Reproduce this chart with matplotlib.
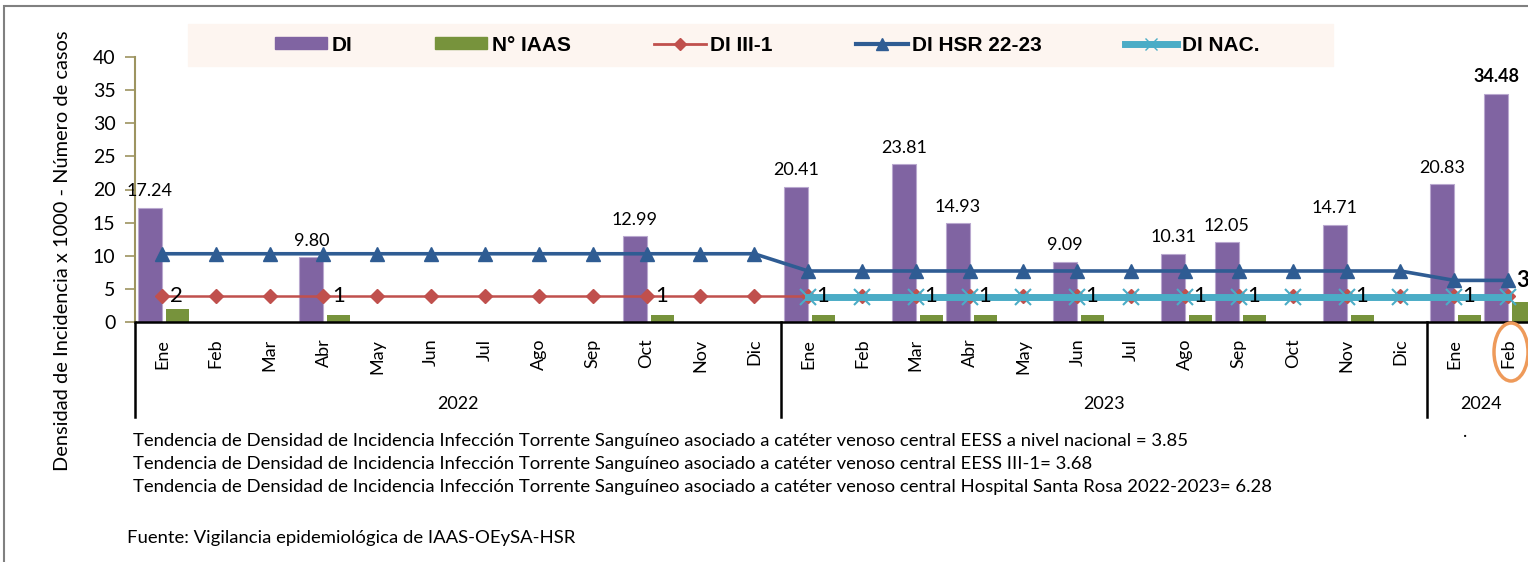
import matplotlib
matplotlib.use("Agg")
import matplotlib.pyplot as plt
from matplotlib.patches import Rectangle, Ellipse
from matplotlib.lines import Line2D
from matplotlib.patches import Patch

months = ['Ene', 'Feb', 'Mar', 'Abr', 'May', 'Jun', 'Jul', 'Ago', 'Sep', 'Oct', 'Nov', 'Dic'] * 2 + ['Ene', 'Feb']
years = ['2022', '2023', '2024']
year_counts = [12, 12, 2]

# DI (densidad de incidencia), None = sin barra
di = [17.24, None, None, 9.80, None, None, None, None, None, 12.99, None, None,
      20.41, None, 23.81, 14.93, None, 9.09, None, 10.31, 12.05, None, 14.71, None,
      20.83, 34.48]
# N° IAAS
iaas = [2, None, None, 1, None, None, None, None, None, 1, None, None,
        1, None, 1, 1, None, 1, None, 1, 1, None, 1, None,
        1, 3]
di_iii1 = [3.85] * 26
di_hsr = [10.3] * 12 + [7.7] * 12 + [6.28] * 2
di_nac = [None] * 12 + [3.7] * 14

notas = [
    "Tendencia de Densidad de Incidencia Infección Torrente Sanguíneo asociado a catéter venoso central EESS a nivel nacional = 3.85",
    "Tendencia de Densidad de Incidencia Infección Torrente Sanguíneo asociado a catéter venoso central EESS III-1= 3.68",
    "Tendencia de Densidad de Incidencia Infección Torrente Sanguíneo asociado a catéter venoso central Hospital Santa Rosa 2022-2023= 6.28",
]
fuente = "Fuente: Vigilancia epidemiológica de IAAS-OEySA-HSR"

PURPLE = '#8064A2'
GREEN = '#77933C'
RED = '#C0504D'
BLUE = '#2F5C93'
CYAN = '#4BACC6'
OLIVE = '#9D9460'

W, H = 1528, 562
fig = plt.figure(figsize=(W / 100, H / 100), dpi=100)
ax = fig.add_axes([135 / W, 1 - 322 / H, 1400 / W, 265 / H])

x = list(range(len(months)))
di_x = [i - 0.223 for i in x if di[i] is not None]
di_v = [v for v in di if v is not None]
ia_x = [i + 0.288 for i in x if iaas[i] is not None]
ia_v = [v for v in iaas if v is not None]

ax.bar(di_x, di_v, width=0.446, color=PURPLE, edgecolor='#B9A8CF', linewidth=0.8, zorder=2)
ax.bar(ia_x, ia_v, width=0.427, color=GREEN, zorder=2)
ax.plot(x, di_iii1, color=RED, lw=1.8, marker='D', ms=7, zorder=3)
ax.plot(x, di_hsr, color=BLUE, lw=2.6, marker='^', ms=10, zorder=4)
ax.plot(x, di_nac, color=CYAN, lw=5, marker='x', ms=12, mew=1.5, mec=CYAN, zorder=5)

lato = 'Lato'
for i in x:
    if di[i] is not None:
        bold = di[i] == max(di_v)
        ax.annotate(f"{di[i]:.2f}", (i - 0.223, di[i]), xytext=(0, 6), textcoords='offset points',
                    ha='center', va='bottom', fontsize=13, family=lato,
                    fontweight='bold' if bold else 'normal', zorder=6)
    if iaas[i] is not None:
        last = i == x[-1]
        ypos = di_hsr[i] if last else di_iii1[i]
        ax.annotate(str(iaas[i]), (i, ypos), xytext=(6, 0), textcoords='offset points',
                    ha='left', va='center', fontsize=16, family=lato,
                    fontweight='bold' if last else 'normal', zorder=6, annotation_clip=False)

ax.set_xlim(-0.5, len(months) - 0.5)
ax.set_ylim(0, 40)
ax.set_yticks(range(0, 41, 5))
ax.tick_params(axis='y', colors=OLIVE, labelcolor='black', labelsize=14, length=7, width=1.2, pad=7)
for t in ax.get_yticklabels():
    t.set_family(lato)
ax.set_xticks(x)
ax.set_xticklabels(months, rotation=90, fontsize=13, family=lato)
ax.tick_params(axis='x', length=0, pad=12)

ax.spines['top'].set_visible(False)
ax.spines['right'].set_visible(False)
ax.spines['left'].set_color(OLIVE)
ax.spines['left'].set_linewidth(1.5)
ax.spines['bottom'].set_linewidth(1.8)

# separadores de año y etiquetas de año
tr = ax.get_xaxis_transform()
start = 0
bounds = [-0.5]
for yr, n in zip(years, year_counts):
    bounds.append(start + n - 0.5)
    ax.text(start + (n - 1) / 2, -0.31, yr, transform=tr, ha='center', va='center',
            fontsize=13, family=lato, clip_on=False)
    start += n
for b in bounds[:-1]:
    ax.add_line(Line2D([b, b], [0, -0.36], transform=tr, color='black', lw=1.8, clip_on=False))

ax.set_ylabel("Densidad de Incidencia x 1000 - Número de casos", fontsize=14.4, family=lato)
ax.yaxis.set_label_coords(-0.046, 0.27)

# leyenda
fig.patches.append(Rectangle((188 / W, 1 - 66 / H), (1333 - 188) / W, 42 / H,
                             transform=fig.transFigure, color='#FDF5F0', zorder=0))
handles = [
    Patch(color=PURPLE),
    Patch(color=GREEN),
    Line2D([], [], color=RED, lw=2, marker='D', ms=6),
    Line2D([], [], color=BLUE, lw=3, marker='^', ms=9),
    Line2D([], [], color=CYAN, lw=5, marker='x', ms=9, mew=1),
]
labels = ['DI', 'N° IAAS', 'DI III-1', 'DI HSR 22-23', 'DI NAC.']
fig.legend(handles, labels, ncol=5, loc='center', bbox_to_anchor=(767 / W, 1 - 45 / H),
           frameon=False, prop={'family': 'Liberation Sans', 'weight': 'bold', 'size': 15},
           handlelength=2.5, handleheight=0.55, handletextpad=0.2, columnspacing=4.0)

# notas
for k, s in enumerate(notas):
    fig.text(133 / W, 1 - (441 + 23 * k) / H, s, fontsize=13.3, family=lato, va='center')
fig.text(127 / W, 1 - 538 / H, fuente, fontsize=13.3, family=lato, va='center')
fig.text(1465 / W, 1 - 440 / H, ".", fontsize=13, family=lato, va='bottom', ha='center')

# marco y resaltado
fig.patches.append(Rectangle((4 / W, -0.1), 1.2, 1.1 - 6 / H, transform=fig.transFigure,
                             fill=False, ec='#808080', lw=1.5))
fig.patches.append(Ellipse((1511 / W, 1 - 352 / H), 34 / W, 58 / H, transform=fig.transFigure,
                           fill=False, ec='#EE9A5A', lw=2.5, zorder=10))

fig.savefig("out.png", dpi=100)
